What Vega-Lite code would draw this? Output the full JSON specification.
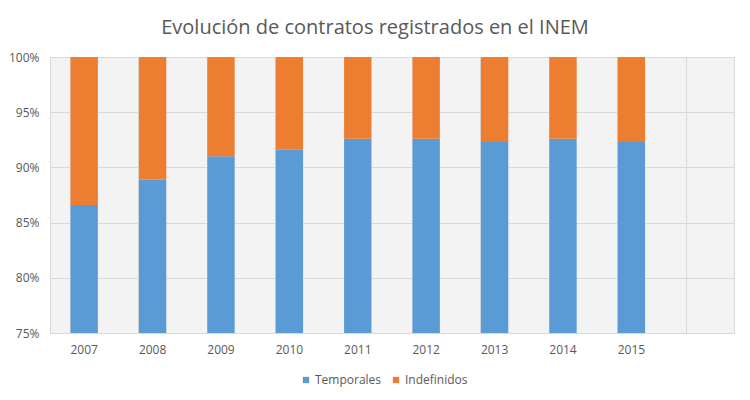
{
  "$schema": "https://vega.github.io/schema/vega-lite/v6.json",
  "autosize": {"type": "none"},
  "width": 684,
  "height": 276,
  "padding": {"left": 50, "top": 57, "right": 16, "bottom": 67},
  "background": "#ffffff",
  "title": {
    "text": "Evolución de contratos registrados en el INEM",
    "anchor": "middle",
    "dx": -17,
    "offset": 13,
    "font": "Open Sans",
    "fontSize": 20,
    "fontWeight": "normal",
    "color": "#595959"
  },
  "data": {
    "values": [
      {"anio": "2007", "tipo": "Temporales", "valor": 86.6},
      {"anio": "2007", "tipo": "Indefinidos", "valor": 13.4},
      {"anio": "2008", "tipo": "Temporales", "valor": 88.9},
      {"anio": "2008", "tipo": "Indefinidos", "valor": 11.1},
      {"anio": "2009", "tipo": "Temporales", "valor": 91.0},
      {"anio": "2009", "tipo": "Indefinidos", "valor": 9.0},
      {"anio": "2010", "tipo": "Temporales", "valor": 91.6},
      {"anio": "2010", "tipo": "Indefinidos", "valor": 8.4},
      {"anio": "2011", "tipo": "Temporales", "valor": 92.6},
      {"anio": "2011", "tipo": "Indefinidos", "valor": 7.4},
      {"anio": "2012", "tipo": "Temporales", "valor": 92.6},
      {"anio": "2012", "tipo": "Indefinidos", "valor": 7.4},
      {"anio": "2013", "tipo": "Temporales", "valor": 92.3},
      {"anio": "2013", "tipo": "Indefinidos", "valor": 7.7},
      {"anio": "2014", "tipo": "Temporales", "valor": 92.6},
      {"anio": "2014", "tipo": "Indefinidos", "valor": 7.4},
      {"anio": "2015", "tipo": "Temporales", "valor": 92.3},
      {"anio": "2015", "tipo": "Indefinidos", "valor": 7.7}
    ]
  },
  "mark": {"type": "bar", "clip": true},
  "encoding": {
    "x": {
      "field": "anio",
      "type": "nominal",
      "scale": {
        "domain": ["2007", "2008", "2009", "2010", "2011", "2012", "2013", "2014", "2015", ""],
        "paddingInner": 0.6,
        "paddingOuter": 0.3
      },
      "axis": {
        "title": null,
        "labelAngle": 0,
        "bandPosition": 0,
        "grid": true,
        "gridColor": "#d9d9d9",
        "ticks": false,
        "domain": true,
        "domainColor": "#d9d9d9",
        "labelPadding": 11,
        "labelFont": "Open Sans",
        "labelFontSize": 12,
        "labelColor": "#595959"
      }
    },
    "y": {
      "field": "valor",
      "type": "quantitative",
      "stack": "normalize",
      "scale": {"domain": [0.75, 1], "nice": false, "zero": false},
      "axis": {
        "title": null,
        "format": ".0%",
        "values": [0.75, 0.8, 0.85, 0.9, 0.95, 1.0],
        "grid": true,
        "gridColor": "#d9d9d9",
        "ticks": false,
        "domain": false,
        "labelPadding": 11,
        "labelFont": "Open Sans",
        "labelFontSize": 12,
        "labelColor": "#595959"
      }
    },
    "color": {
      "field": "tipo",
      "type": "nominal",
      "sort": ["Temporales", "Indefinidos"],
      "scale": {"domain": ["Temporales", "Indefinidos"], "range": ["#5b9bd5", "#ed7d31"]},
      "legend": {
        "title": null,
        "orient": "none",
        "legendX": 250,
        "legendY": 317,
        "direction": "horizontal",
        "symbolType": "square",
        "symbolSize": 40,
        "symbolStrokeWidth": 0,
        "labelOffset": 3,
        "labelFont": "Open Sans",
        "labelFontSize": 12,
        "labelColor": "#595959",
        "columnPadding": 8
      }
    }
  },
  "config": {
    "view": {"fill": "#f3f3f3", "stroke": "#d9d9d9"}
  }
}
